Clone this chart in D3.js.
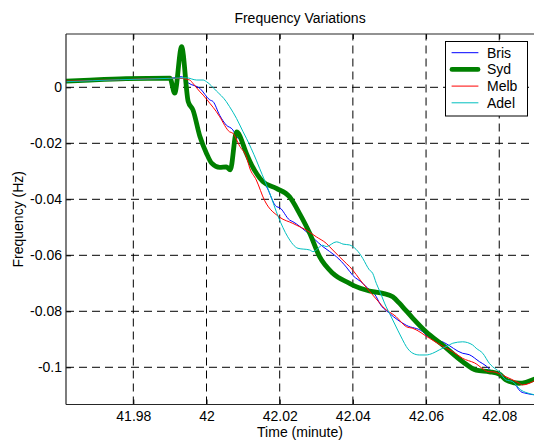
<!DOCTYPE html>
<html><head><meta charset="utf-8">
<script src="https://cdn.jsdelivr.net/npm/d3@7"></script>
<style>
body{margin:0;background:#fff}
svg{display:block}
text{font-family:"Liberation Sans",Arial,sans-serif;fill:#000}
</style>
</head><body>
<svg id="c" width="534" height="441"></svg>
<script>
// ---- data (time in minutes, frequency deviation in Hz) ----
const seriesNames = ["Bris", "Syd", "Melb", "Adel"];
const seriesColors = ["#0000ff", "#008000", "#ff0000", "#00bfbf"];

const bris = [
  [41.9616,0.0022],[41.9763,0.0029],[41.9900,0.0032],[41.9932,0.0038],[41.9950,0.0016],
  [41.9982,-0.0004],[42.0009,-0.0045],[42.0018,-0.0051],[42.0036,-0.0100],[42.0054,-0.0135],
  [42.0072,-0.0152],[42.0082,-0.0176],[42.0091,-0.0188],[42.0118,-0.0260],[42.0145,-0.0319],
  [42.0164,-0.0355],[42.0191,-0.0426],[42.0200,-0.0430],[42.0227,-0.0474],[42.0236,-0.0480],
  [42.0273,-0.0516],[42.0318,-0.0569],[42.0336,-0.0586],[42.0355,-0.0605],[42.0382,-0.0642],
  [42.0400,-0.0672],[42.0427,-0.0700],[42.0436,-0.0712],[42.0464,-0.0748],[42.0473,-0.0771],
  [42.0500,-0.0807],[42.0546,-0.0850],[42.0591,-0.0873],[42.0600,-0.0885],[42.0650,-0.0912],
  [42.0700,-0.0950],[42.0718,-0.0955],[42.0746,-0.0980],[42.0764,-0.0995],[42.0782,-0.1016],
  [42.0800,-0.1021],[42.0818,-0.1045],[42.0836,-0.1051],[42.0859,-0.1087],[42.0873,-0.1093],
  [42.0900,-0.1099]
];
const syd = [
  [41.9616,0.0022],[41.9681,0.0026],[41.9780,0.0031],[41.9900,0.0033],[41.9913,-0.0021],
  [41.9932,0.0145],[41.9950,-0.0051],[41.9963,-0.0081],[41.9982,-0.0176],[42.0000,-0.0236],
  [42.0014,-0.0271],[42.0036,-0.0286],[42.0054,-0.0284],[42.0065,-0.0295],[42.0082,-0.0159],
  [42.0109,-0.0236],[42.0118,-0.0263],[42.0154,-0.0337],[42.0191,-0.0361],[42.0227,-0.0391],
  [42.0254,-0.0450],[42.0282,-0.0521],[42.0309,-0.0605],[42.0345,-0.0664],[42.0391,-0.0700],
  [42.0409,-0.0712],[42.0436,-0.0724],[42.0454,-0.0730],[42.0482,-0.0736],[42.0509,-0.0748],
  [42.0527,-0.0771],[42.0536,-0.0784],[42.0564,-0.0825],[42.0600,-0.0873],[42.0645,-0.0920],
  [42.0700,-0.0980],[42.0737,-0.1010],[42.0773,-0.1016],[42.0800,-0.1024],[42.0818,-0.1045],
  [42.0855,-0.1057],[42.0900,-0.1040]
];
const melb = [
  [41.9616,0.0022],[41.9763,0.0027],[41.9900,0.0032],[41.9927,0.0032],[41.9954,0.0026],
  [41.9963,0.0014],[41.9982,-0.0016],[41.9991,-0.0028],[42.0009,-0.0057],[42.0027,-0.0087],
  [42.0036,-0.0105],[42.0063,-0.0159],[42.0072,-0.0164],[42.0091,-0.0211],[42.0109,-0.0248],
  [42.0118,-0.0288],[42.0136,-0.0331],[42.0159,-0.0405],[42.0200,-0.0464],[42.0236,-0.0486],
  [42.0245,-0.0492],[42.0273,-0.0510],[42.0300,-0.0534],[42.0327,-0.0557],[42.0345,-0.0581],
  [42.0382,-0.0629],[42.0391,-0.0640],[42.0427,-0.0700],[42.0473,-0.0770],[42.0482,-0.0784],
  [42.0518,-0.0819],[42.0546,-0.0855],[42.0564,-0.0861],[42.0609,-0.0896],[42.0655,-0.0932],
  [42.0673,-0.0944],[42.0700,-0.0968],[42.0732,-0.0984],[42.0773,-0.1016],[42.0782,-0.1016],
  [42.0812,-0.1030],[42.0855,-0.1057],[42.0864,-0.1063],[42.0900,-0.1045]
];
const adel = [
  [41.9616,0.0020],[41.9763,0.0027],[41.9900,0.0032],[41.9945,0.0034],[41.9973,0.0026],
  [41.9991,0.0026],[42.0000,0.0020],[42.0027,-0.0013],[42.0054,-0.0051],[42.0063,-0.0069],
  [42.0082,-0.0111],[42.0100,-0.0159],[42.0109,-0.0182],[42.0136,-0.0260],[42.0145,-0.0289],
  [42.0173,-0.0379],[42.0196,-0.0462],[42.0222,-0.0534],[42.0250,-0.0575],[42.0282,-0.0581],
  [42.0291,-0.0587],[42.0318,-0.0564],[42.0327,-0.0569],[42.0355,-0.0552],[42.0364,-0.0555],
  [42.0373,-0.0560],[42.0391,-0.0563],[42.0400,-0.0569],[42.0418,-0.0593],[42.0427,-0.0611],
  [42.0445,-0.0652],[42.0454,-0.0664],[42.0464,-0.0700],[42.0473,-0.0727],[42.0491,-0.0784],
  [42.0500,-0.0807],[42.0509,-0.0831],[42.0536,-0.0902],[42.0546,-0.0926],[42.0564,-0.0950],
  [42.0582,-0.0956],[42.0600,-0.0956],[42.0618,-0.0950],[42.0636,-0.0938],[42.0664,-0.0920],
  [42.0673,-0.0914],[42.0700,-0.0909],[42.0727,-0.0920],[42.0737,-0.0932],[42.0755,-0.0950],
  [42.0773,-0.0986],[42.0782,-0.0998],[42.0800,-0.1016],[42.0818,-0.1045],[42.0836,-0.1051],
  [42.0859,-0.1081],[42.0873,-0.1090],[42.0900,-0.1099]
];
const seriesData = [bris, syd, melb, adel];
const seriesWidths = [1, 4.8, 1, 1];

const xTicks = [41.98, 42, 42.02, 42.04, 42.06, 42.08];
const xTickLabels = ["41.98", "42", "42.02", "42.04", "42.06", "42.08"];
const yTicks = [0, -0.02, -0.04, -0.06, -0.08, -0.1];
const yTickLabels = ["0", "-0.02", "-0.04", "-0.06", "-0.08", "-0.1"];

const titleText = "Frequency Variations";
const xLabelText = "Time (minute)";
const yLabelText = "Frequency (Hz)";

// ---- layout ----
const L = 66, R = 534, T = 34, B = 404.5;
const svg = d3.select("#c");
const x = d3.scaleLinear().domain([41.9616, 42.0895]).range([L, R]);
const y = d3.scaleLinear().domain([-0.11329, 0.01904]).range([B, T]);

svg.append("rect").attr("x", L).attr("y", T).attr("width", R - L).attr("height", B - T).attr("fill", "#fff");

svg.append("defs").append("clipPath").attr("id", "clip")
  .append("rect").attr("x", L).attr("y", T).attr("width", R - L).attr("height", B - T);

// grid
const grid = svg.append("g").attr("stroke", "#000").attr("stroke-width", 1).attr("stroke-dasharray", "8,5").attr("fill", "none");
grid.selectAll(".gx").data(xTicks).join("line")
  .attr("x1", d => x(d)).attr("x2", d => x(d)).attr("y1", B).attr("y2", T);
grid.selectAll(".gy").data(yTicks).join("line")
  .attr("y1", d => y(d)).attr("y2", d => y(d)).attr("x1", L).attr("x2", R);

// lines
const line = d3.line().curve(d3.curveMonotoneX).x(d => x(d[0])).y(d => y(d[1]));
const lg = svg.append("g").attr("clip-path", "url(#clip)");
seriesData.forEach((data, i) => {
  lg.append("path").datum(data).attr("d", line)
    .attr("fill", "none").attr("stroke", seriesColors[i])
    .attr("stroke-width", seriesWidths[i]).attr("stroke-linejoin", "round").attr("stroke-linecap", "round");
});

// axes
const fs = "14px";
const xa = svg.append("g").attr("transform", `translate(0,${B})`)
  .call(d3.axisBottom(x).tickValues(xTicks).tickFormat((d, i) => xTickLabels[i]).tickSizeInner(-5).tickSizeOuter(0).tickPadding(7));
const xt = svg.append("g").attr("transform", `translate(0,${T})`)
  .call(d3.axisTop(x).tickValues(xTicks).tickFormat("").tickSizeInner(-5).tickSizeOuter(0));
const ya = svg.append("g").attr("transform", `translate(${L},0)`)
  .call(d3.axisLeft(y).tickValues(yTicks).tickFormat((d, i) => yTickLabels[i]).tickSizeInner(-5).tickSizeOuter(0).tickPadding(4));
[xa, xt, ya].forEach(g => {
  g.select(".domain").remove();
  g.selectAll("line").attr("stroke", "#000");
  g.selectAll("text").attr("font-size", fs).attr("font-family", '"Liberation Sans",Arial,sans-serif').attr("fill", "#000");
});

// border
const bd = svg.append("g").attr("stroke", "#262626").attr("stroke-width", 1.2).attr("fill", "none");
bd.append("line").attr("x1", L).attr("x2", R).attr("y1", T).attr("y2", T);
bd.append("line").attr("x1", L).attr("x2", R).attr("y1", B).attr("y2", B);
bd.append("line").attr("x1", L).attr("x2", L).attr("y1", T).attr("y2", B);

// titles
svg.append("text").attr("x", (L + R) / 2).attr("y", 23).attr("text-anchor", "middle").attr("font-size", fs).text(titleText);
svg.append("text").attr("x", (L + R) / 2).attr("y", 437).attr("text-anchor", "middle").attr("font-size", fs).text(xLabelText);
svg.append("text").attr("transform", `translate(23,${(T + B) / 2}) rotate(-90)`).attr("text-anchor", "middle").attr("font-size", fs).text(yLabelText);

// legend
const leg = svg.append("g");
leg.append("rect").attr("x", 445.5).attr("y", 41.5).attr("width", 82).attr("height", 74.5)
  .attr("fill", "#fff").attr("stroke", "#000").attr("stroke-width", 1);
seriesNames.forEach((n, i) => {
  const yy = 52.7 + i * 16.7;
  leg.append("line").attr("x1", 452).attr("x2", 478).attr("y1", yy).attr("y2", yy)
    .attr("stroke", seriesColors[i]).attr("stroke-width", seriesWidths[i]).attr("stroke-linecap", "round");
  leg.append("text").attr("x", 487).attr("y", yy).attr("dy", "0.36em").attr("font-size", fs).text(n);
});
</script>
</body></html>
